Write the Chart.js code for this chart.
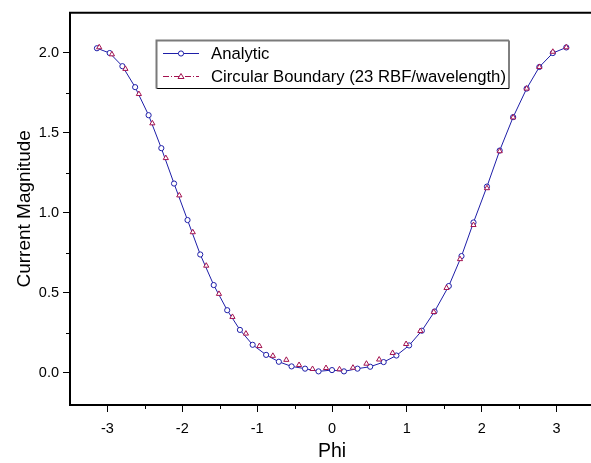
<!DOCTYPE html>
<html>
<head>
<meta charset="utf-8">
<script src="https://cdn.jsdelivr.net/npm/chart.js@4/dist/chart.umd.min.js"></script>
<style>
  html, body { margin: 0; padding: 0; background: #fff; overflow: hidden; }
  #wrap { width: 600px; height: 463px; }
</style>
</head>
<body>
<div id="wrap"><canvas id="c" width="600" height="463"></canvas></div>
<script>
// ---- data ----
const phiAnalytic = [-3.14, -2.97, -2.80, -2.63, -2.45, -2.28, -2.11, -1.93, -1.76, -1.58,
  -1.40, -1.23, -1.06, -0.88, -0.71, -0.54, -0.36, -0.18, 0.00, 0.16,
  0.34, 0.51, 0.69, 0.86, 1.03, 1.20, 1.37, 1.56, 1.73, 1.89,
  2.07, 2.24, 2.42, 2.60, 2.77, 2.95, 3.13];
const magAnalytic = [2.028, 1.998, 1.916, 1.785, 1.610, 1.404, 1.183, 0.955, 0.740, 0.549,
  0.392, 0.269, 0.176, 0.113, 0.070, 0.041, 0.027, 0.010, 0.018, 0.010,
  0.027, 0.039, 0.068, 0.109, 0.172, 0.264, 0.384, 0.543, 0.730, 0.940,
  1.164, 1.389, 1.598, 1.776, 1.911, 1.998, 2.033];
const phiRBF = [-3.11, -2.94, -2.76, -2.58, -2.40, -2.22, -2.04, -1.86, -1.68, -1.51,
  -1.33, -1.15, -0.97, -0.79, -0.61, -0.44, -0.26, -0.08, 0.10, 0.28,
  0.46, 0.63, 0.81, 0.99, 1.18, 1.36, 1.53, 1.71, 1.89, 2.07,
  2.24, 2.42, 2.60, 2.77, 2.95, 3.13];
const magRBF = [2.034, 1.990, 1.899, 1.742, 1.559, 1.342, 1.109, 0.879, 0.670, 0.494,
  0.350, 0.246, 0.168, 0.107, 0.082, 0.050, 0.025, 0.031, 0.023, 0.033,
  0.058, 0.084, 0.125, 0.181, 0.262, 0.381, 0.531, 0.711, 0.924, 1.154,
  1.385, 1.596, 1.776, 1.911, 2.006, 2.034];
const seriesNames = ['Analytic', 'Circular Boundary (23 RBF/wavelength)'];
const xTickValues = [-3, -2.5, -2, -1.5, -1, -0.5, 0, 0.5, 1, 1.5, 2, 2.5, 3];
const yTickValues = [0, 0.25, 0.5, 0.75, 1.0, 1.25, 1.5, 1.75, 2.0];
const xTitle = 'Phi';
const yTitle = 'Current Magnitude';

// ---- styles ----
const FONT = '"Liberation Sans", Arial, sans-serif';
const BLUE = '#1e1ea8';
const RED = '#a3124f';
const DASHDOT = [6, 2, 1, 2];

const isMajorX = v => Math.abs(v - Math.round(v)) < 1e-9;
const isMajorY = v => Math.abs(v * 2 - Math.round(v * 2)) < 1e-9;

const decor = {
  id: 'decor',
  afterDraw(chart) {
    const ctx = chart.ctx, a = chart.chartArea;
    const xs = chart.scales.x, ys = chart.scales.y;
    ctx.save();
    // top frame line
    ctx.strokeStyle = '#000';
    ctx.lineWidth = 2;
    ctx.beginPath();
    ctx.moveTo(a.left - 1, a.top);
    ctx.lineTo(a.right + 1, a.top);
    ctx.stroke();
    // minor ticks
    ctx.lineWidth = 1;
    ctx.beginPath();
    xs.ticks.forEach(t => {
      if (!isMajorX(t.value)) {
        const px = Math.round(xs.getPixelForValue(t.value)) + 0.5;
        ctx.moveTo(px, a.bottom);
        ctx.lineTo(px, a.bottom + 4);
      }
    });
    ys.ticks.forEach(t => {
      if (!isMajorY(t.value)) {
        const py = Math.round(ys.getPixelForValue(t.value)) + 0.5;
        ctx.moveTo(a.left, py);
        ctx.lineTo(a.left - 4, py);
      }
    });
    ctx.stroke();

    // legend box
    const bx = 156.5, by = 40.5, bw = 352.5, bh = 48;
    ctx.fillStyle = '#fff';
    ctx.fillRect(bx, by, bw, bh);
    ctx.strokeStyle = '#000';
    ctx.lineWidth = 1;
    ctx.beginPath();
    ctx.moveTo(bx + bw, by); ctx.lineTo(bx + bw, by + bh); ctx.lineTo(bx, by + bh);
    ctx.stroke();
    ctx.strokeStyle = '#7a7a7a';
    ctx.lineWidth = 2;
    ctx.beginPath();
    ctx.moveTo(bx, by + bh); ctx.lineTo(bx, by); ctx.lineTo(bx + bw, by);
    ctx.stroke();

    const rows = [
      { y: 53.5, color: BLUE, dash: [], style: 'circle', text: seriesNames[0] },
      { y: 76.5, color: RED, dash: DASHDOT, style: 'triangle', text: seriesNames[1] }
    ];
    rows.forEach(r => {
      ctx.strokeStyle = r.color;
      ctx.lineWidth = 1;
      ctx.setLineDash(r.dash);
      ctx.beginPath();
      ctx.moveTo(163, r.y); ctx.lineTo(199, r.y);
      ctx.stroke();
      ctx.setLineDash([]);
      ctx.fillStyle = '#fff';
      ctx.strokeStyle = r.color;
      ctx.beginPath();
      if (r.style === 'circle') {
        ctx.arc(181, r.y, 2.6, 0, Math.PI * 2);
      } else {
        ctx.moveTo(181, r.y - 3); ctx.lineTo(184, r.y + 2); ctx.lineTo(178, r.y + 2); ctx.closePath();
      }
      ctx.fill(); ctx.stroke();
      ctx.fillStyle = '#000';
      ctx.font = '16.7px ' + FONT;
      ctx.textBaseline = 'middle';
      ctx.textAlign = 'left';
      ctx.fillText(r.text, 211, r.y + 0.5);
    });
    ctx.restore();
  }
};

new Chart(document.getElementById('c'), {
  type: 'scatter',
  data: {
    datasets: [
      {
        label: seriesNames[1],
        data: phiRBF.map((x, i) => ({ x, y: magRBF[i] })),
        showLine: false,
        borderColor: RED,
        backgroundColor: '#fff',
        borderDash: DASHDOT,
        borderWidth: 1,
        pointStyle: 'triangle',
        pointRadius: 3,
        pointBorderWidth: 1,
        order: 0
      },
      {
        label: seriesNames[0],
        data: phiAnalytic.map((x, i) => ({ x, y: magAnalytic[i] })),
        showLine: true,
        tension: 0,
        borderColor: BLUE,
        backgroundColor: '#fff',
        borderWidth: 1,
        pointStyle: 'circle',
        pointRadius: 2.6,
        pointBorderWidth: 1,
        order: 1
      }
    ]
  },
  options: {
    responsive: false,
    maintainAspectRatio: false,
    animation: false,
    devicePixelRatio: 1,
    layout: { padding: { left: 0, right: 6, top: 7, bottom: 0 } },
    plugins: { legend: { display: false }, tooltip: { enabled: false } },
    scales: {
      x: {
        type: 'linear',
        min: -3.5, max: 3.5,
        afterBuildTicks: s => { s.ticks = xTickValues.map(v => ({ value: v })); },
        afterFit: s => { s.height = 58; },
        border: { display: true, color: '#000', width: 2 },
        grid: {
          drawOnChartArea: false, drawTicks: true, tickLength: 7,
          tickColor: c => (c.tick && isMajorX(c.tick.value)) ? '#000' : 'rgba(0,0,0,0)',
          tickWidth: 1
        },
        ticks: {
          color: '#000', font: { family: FONT, size: 14.5 }, padding: 8,
          maxRotation: 0, autoSkip: false,
          callback: v => isMajorX(v) ? String(Math.round(v)) : ''
        },
        title: { display: true, text: xTitle, color: '#000', font: { family: FONT, size: 19.5 }, padding: { top: 0, bottom: 0 } }
      },
      y: {
        type: 'linear',
        min: -0.2, max: 2.25,
        afterBuildTicks: s => { s.ticks = yTickValues.map(v => ({ value: v })); },
        afterFit: s => { s.width = 70; },
        border: { display: true, color: '#000', width: 2 },
        grid: {
          drawOnChartArea: false, drawTicks: true, tickLength: 7,
          tickColor: c => (c.tick && isMajorY(c.tick.value)) ? '#000' : 'rgba(0,0,0,0)',
          tickWidth: 1
        },
        ticks: {
          color: '#000', font: { family: FONT, size: 14.5 }, padding: 4,
          autoSkip: false,
          callback: v => isMajorY(v) ? v.toFixed(1) : ''
        },
        title: { display: true, text: yTitle, color: '#000', font: { family: FONT, size: 19 }, padding: { top: 13, bottom: 0 } }
      }
    }
  },
  plugins: [decor]
});
</script>
</body>
</html>
